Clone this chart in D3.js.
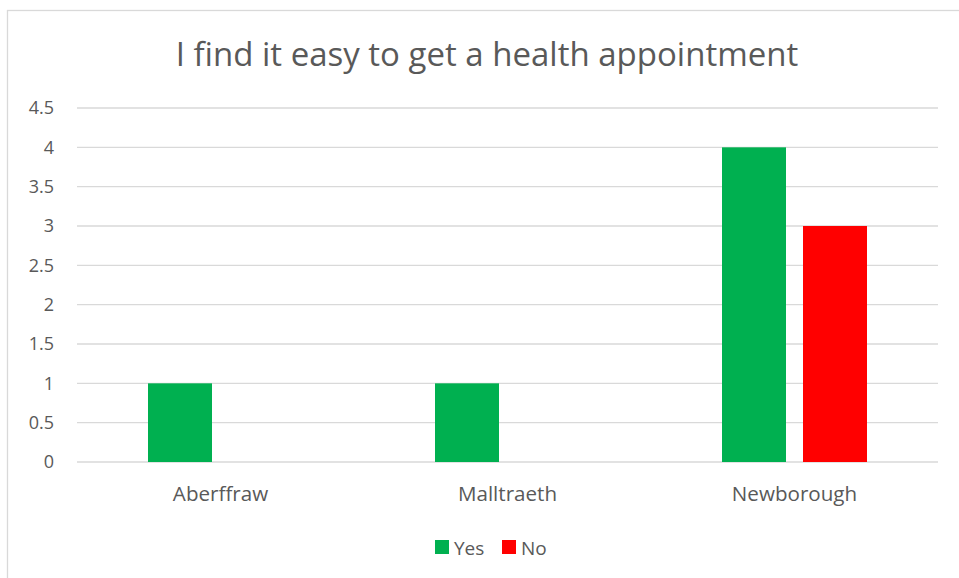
<!DOCTYPE html>
<html><head><meta charset="utf-8">
<script src="https://cdn.jsdelivr.net/npm/d3@7"></script>
<style>
html,body{margin:0;padding:0;background:#fff;}
text{font-family:"Open Sans",sans-serif;fill:#595959;}
</style></head>
<body><svg id="c" width="959" height="578"></svg>
<script>
const categories = ["Aberffraw", "Malltraeth", "Newborough"];
const seriesNames = ["Yes", "No"];
const yesValues = [1, 1, 4];
const noValues = [0, 0, 3];
const yTicks = [0, 0.5, 1, 1.5, 2, 2.5, 3, 3.5, 4, 4.5];
const colors = {Yes: "#00b050", No: "#ff0000"};
const chartTitle = "I find it easy to get a health appointment";

const svg = d3.select("#c");
// chart border
svg.append("rect").attr("x", 7.5).attr("y", 10.5).attr("width", 970).attr("height", 600)
  .attr("fill", "none").attr("stroke", "#d9d9d9").attr("stroke-width", 1.3);

const plotLeft = 77, plotRight = 938, plotTop = 108, plotBottom = 462;
const x0 = d3.scaleBand().domain(categories).range([plotLeft, plotRight]).padding(0);
const x1 = d3.scaleBand().domain(seriesNames).range([71, 216]).paddingInner(0.21).paddingOuter(0);
const y = d3.scaleLinear().domain([0, 4.5]).range([plotBottom, plotTop]);

// gridlines
svg.append("g").selectAll("line").data(yTicks).join("line")
  .attr("x1", plotLeft).attr("x2", plotRight)
  .attr("y1", d => y(d)).attr("y2", d => y(d))
  .attr("stroke", "#d9d9d9").attr("stroke-width", 1.3);

// y labels
svg.append("g").selectAll("text").data(yTicks).join("text")
  .attr("x", 54).attr("y", d => y(d)).attr("dy", "0.36em")
  .attr("text-anchor", "end").attr("font-size", 18)
  .text(d => d3.format("~g")(d));

const rows = categories.map((c, i) => ({cat: c, vals: [{s: "Yes", v: yesValues[i]}, {s: "No", v: noValues[i]}]}));
const g = svg.append("g").selectAll("g").data(rows).join("g")
  .attr("transform", d => `translate(${x0(d.cat)},0)`);
g.selectAll("rect").data(d => d.vals.filter(v => v.v > 0)).join("rect")
  .attr("x", d => x1(d.s)).attr("width", x1.bandwidth())
  .attr("y", d => y(d.v)).attr("height", d => y(0) - y(d.v))
  .attr("fill", d => colors[d.s]);

// category labels
svg.append("g").selectAll("text").data(categories).join("text")
  .attr("x", d => x0(d) + x0.bandwidth() / 2).attr("y", 501)
  .attr("text-anchor", "middle").attr("font-size", 20.6)
  .text(d => d);

// title
svg.append("text").attr("x", 487).attr("y", 66).attr("text-anchor", "middle")
  .attr("font-size", 33).text(chartTitle);

// legend
const leg = [{s: "Yes", x: 435}, {s: "No", x: 502}];
const lg = svg.append("g").selectAll("g").data(leg).join("g");
lg.append("rect").attr("x", d => d.x).attr("y", 540).attr("width", 14).attr("height", 14)
  .attr("fill", d => colors[d.s]);
lg.append("text").attr("x", d => d.x + 19).attr("y", 555).attr("font-size", 19).text(d => d.s);
</script></body></html>
